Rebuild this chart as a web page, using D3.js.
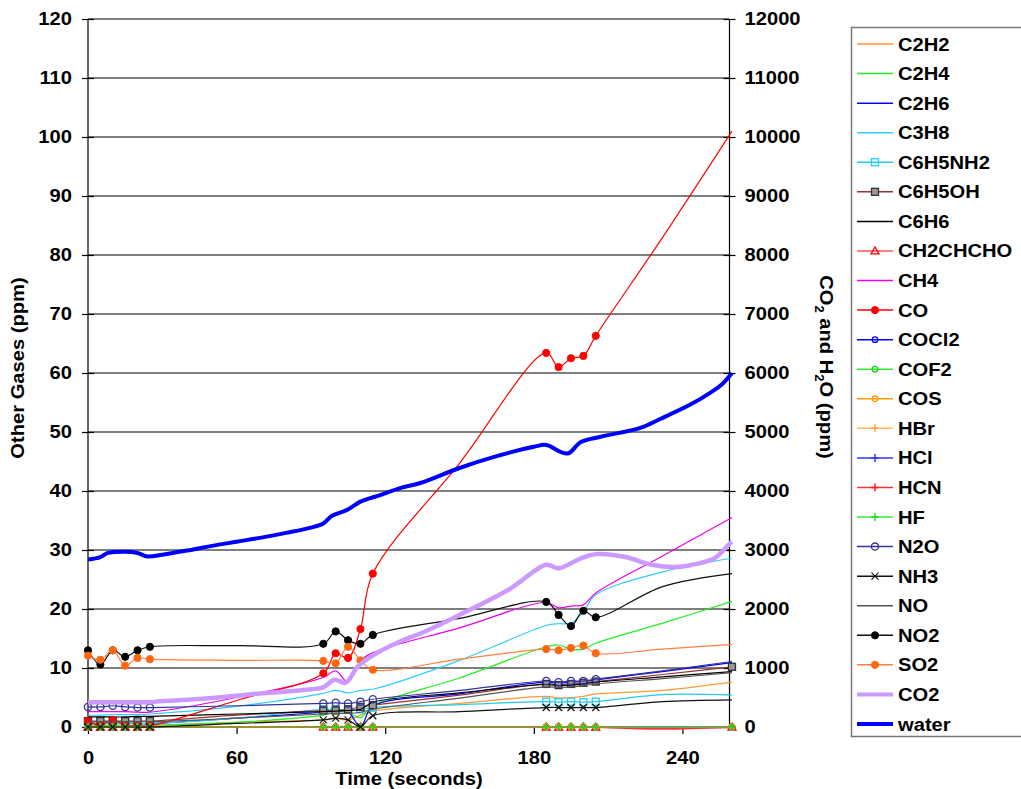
<!DOCTYPE html>
<html>
<head>
<meta charset="utf-8">
<script src="https://cdn.jsdelivr.net/npm/d3@7/dist/d3.min.js"></script>
<style>
  html, body { margin: 0; padding: 0; background: #fff; }
  svg { display: block; }
  text { font-family: "Liberation Sans", Arial, sans-serif; font-weight: bold; fill: #000; }
</style>
</head>
<body>
<svg id="chart" width="1021" height="789"></svg>
<script>
// Sample times (seconds) for the FTIR gas readings
const gasTimes = [0, 5, 10, 15, 20, 25, 60, 95, 100, 105, 110, 115, 150, 185, 190, 195, 200, 205, 232, 260];
// Times at which the sampled points carry a marker
const markTimes = [0, 5, 10, 15, 20, 25, 95, 100, 105, 110, 115, 185, 190, 195, 200, 205];
const endTime = 260;

// Other gases, ppm (left axis)
const C2H2     = [0.3, 0.3, 0.3, 0.3, 0.3, 0.3, 0.8, 1.2, 1.4, 1.2, 2.0, 2.7, 4.0, 5.2, 4.9, 5.0, 5.2, 5.6, 6.2, 7.6];
const C2H4     = [0.3, 0.3, 0.3, 0.3, 0.3, 0.3, 0.8, 2.0, 2.6, 2.4, 1.6, 3.6, 8.3, 13.6, 13.9, 13.2, 13.2, 14.2, 17.6, 21.3];
const C2H6     = [0.6, 0.6, 0.6, 0.6, 0.6, 0.6, 1.5, 2.5, 2.7, 2.6, 0.0, 3.5, 5.6, 7.6, 7.4, 7.6, 7.7, 8.0, 9.4, 10.9];
const C3H8     = [2.0, 2.0, 2.1, 2.1, 2.1, 2.2, 3.5, 5.7, 6.2, 5.8, 6.2, 6.4, 11.3, 17.2, 17.5, 17.6, 19.5, 22.4, 26.3, 28.6];
const C6H5NH2  = [0.6, 0.6, 0.6, 0.6, 0.6, 0.6, 1.5, 3.0, 3.0, 2.9, 3.0, 3.3, 3.8, 4.3, 4.2, 4.3, 4.2, 4.3, 5.5, 5.4];
const C6H5OH   = [1.0, 1.0, 1.0, 1.0, 1.0, 1.0, 2.0, 2.8, 2.8, 3.0, 3.4, 3.7, 5.4, 7.3, 7.1, 7.3, 7.5, 7.7, 8.9, 10.2];
const C6H6     = [1.7, 1.7, 1.7, 1.7, 1.8, 1.8, 2.2, 2.6, 2.7, 2.8, 3.0, 4.2, 5.8, 7.2, 7.0, 7.1, 7.3, 7.6, 8.5, 9.4];
const CH2CHCHO = [0, 0, 0, 0, 0, 0, 0, 0, 0, 0, 0, 0, 0, 0, 0, 0, 0, 0, 0, 0];
const CH4      = [2.6, 2.6, 2.6, 2.6, 2.5, 2.5, 5.0, 8.4, 9.5, 7.6, 11.2, 12.6, 16.8, 21.1, 20.2, 20.5, 20.7, 22.7, 29.0, 35.5];
const CO       = [1.0, 0.3, 1.2, 0.3, 0.2, 0.2, 4.5, 9.1, 12.5, 11.7, 16.6, 26.0, 44.7, 63.4, 61.0, 62.5, 62.9, 66.3, 83.0, 101.0];
const COCl2    = [0, 0, 0, 0, 0, 0, 0, 0, 0, 0, 0, 0, 0, 0, 0, 0, 0, 0, 0, 0];
const COF2     = [0, 0, 0, 0, 0, 0, 0, 0, 0, 0, 0, 0, 0, 0, 0, 0, 0, 0, 0, 0];
const COS      = [0, 0, 0, 0, 0, 0, 0, 0, 0, 0, 0, 0, 0, 0, 0, 0, 0, 0, 0, 0];
const HBr      = [0, 0, 0, 0, 0, 0, 0, 0, 0, 0, 0, 0, 0, 0, 0, 0, 0, 0, 0, 0];
const HCl      = [0, 0, 0, 0, 0, 0, 0, 0, 0, 0, 0, 0, 0, 0, 0, 0, 0, 0, 0, 0];
const HCN      = [0, 0, 0, 0, 0, 0, 0, 0, 0, 0, 0, 0, 0, 0, 0, 0, 0, 0, -0.3, 0];
const HF       = [0, 0, 0, 0, 0, 0, 0, 0, 0, 0, 0, 0, 0, 0, 0, 0, 0, 0, 0, 0];
const N2O      = [3.4, 3.4, 3.6, 3.4, 3.3, 3.3, 3.6, 4.0, 4.1, 4.0, 4.3, 4.7, 6.2, 7.8, 7.6, 7.8, 7.8, 8.1, 9.5, 11.1];
const NH3      = [0, 0, 0, 0, 0, 0, 0.6, 1.2, 1.5, 1.2, 0.05, 1.9, 2.6, 3.3, 3.3, 3.3, 3.3, 3.3, 4.3, 4.6];
const NO       = [0.9, 0.9, 0.9, 0.9, 0.9, 0.9, 1.5, 2.2, 2.3, 2.3, 2.5, 3.0, 4.9, 6.8, 6.7, 6.8, 7.0, 7.3, 8.2, 9.2];
const NO2      = [13.0, 10.6, 13.0, 11.9, 13.0, 13.6, 13.8, 14.1, 16.2, 14.7, 14.1, 15.6, 18.4, 21.2, 19.0, 17.1, 19.7, 18.6, 23.8, 26.0];
const SO2      = [12.1, 11.4, 13.0, 10.4, 11.7, 11.5, 11.3, 11.2, 10.8, 13.6, 11.3, 9.7, 11.5, 13.2, 13.0, 13.4, 13.8, 12.5, 13.2, 14.0];

// CO2 and water, ppm (right axis)
const co2Times   = [0, 10, 20, 25, 30, 40, 50, 60, 70, 80, 90, 95, 99.5, 104, 108.8, 114, 126, 134.5, 150, 170, 185, 190, 199, 205, 217, 227.5, 237, 244, 253, 258, 260];
const co2Values  = [420, 420, 420, 420, 440, 460, 490, 530, 570, 600, 640, 670, 800, 750, 1020, 1190, 1450, 1590, 1900, 2330, 2750, 2690, 2860, 2930, 2880, 2750, 2710, 2750, 2860, 3060, 3140];
const waterTimes  = [0, 5, 8, 15, 20, 24, 30, 40, 50, 60, 70, 80, 90, 95, 98.5, 104.6, 110, 114, 118, 126, 134.5, 150, 165, 180, 185, 191, 194, 199, 207, 223, 231, 243, 251, 256, 260];
const waterValues = [2840, 2880, 2950, 2970, 2950, 2890, 2920, 2990, 3070, 3140, 3210, 3290, 3380, 3450, 3580, 3680, 3820, 3880, 3930, 4050, 4140, 4390, 4590, 4750, 4780, 4660, 4640, 4830, 4920, 5070, 5220, 5460, 5660, 5810, 6000];

// Axis ticks
const xTicks = [0, 60, 120, 180, 240];
const leftTicks = d3.range(0, 121, 10);
const rightTicks = d3.range(0, 12001, 1000);

// Series styling (drawn in legend order)
const gasSeries = [
  { name: "C2H2",     values: C2H2,     color: "#ff9933", marker: null },
  { name: "C2H4",     values: C2H4,     color: "#22ee22", marker: null },
  { name: "C2H6",     values: C2H6,     color: "#0000ff", marker: null },
  { name: "C3H8",     values: C3H8,     color: "#33ccff", marker: null },
  { name: "C6H5NH2",  values: C6H5NH2,  color: "#22ccee", marker: "squareOpen", mColor: "#22ccff" },
  { name: "C6H5OH",   values: C6H5OH,   color: "#993333", marker: "squareGray", mColor: "#333333", end: true },
  { name: "C6H6",     values: C6H6,     color: "#000000", marker: null },
  { name: "CH2CHCHO", values: CH2CHCHO, color: "#ff5555", marker: "triangle", mColor: "#ff0000", end: true },
  { name: "CH4",      values: CH4,      color: "#ee00ee", marker: null },
  { name: "CO",       values: CO,       color: "#ff0000", marker: "circleFill", mColor: "#ff0000" },
  { name: "COCl2",    values: COCl2,    color: "#0000ff", marker: "circleOpenSmall", mColor: "#0000ff", end: true },
  { name: "COF2",     values: COF2,     color: "#33ee33", marker: "circleOpenSmall", mColor: "#22cc22", end: true },
  { name: "COS",      values: COS,      color: "#ff9900", marker: "circleOpenSmall", mColor: "#ff9900", end: true },
  { name: "HBr",      values: HBr,      color: "#ffbb55", marker: "plus", mColor: "#ffaa33", end: true },
  { name: "HCl",      values: HCl,      color: "#3333ff", marker: "plus", mColor: "#3333ff", end: true },
  { name: "HCN",      values: HCN,      color: "#ff3333", marker: "plus", mColor: "#ff2222", end: true, wide: true },
  { name: "HF",       values: HF,       color: "#33ee33", marker: "plus", mColor: "#22dd22", end: true },
  { name: "N2O",      values: N2O,      color: "#333399", marker: "circleOpen", mColor: "#333399" },
  { name: "NH3",      values: NH3,      color: "#111111", marker: "cross", mColor: "#111111" },
  { name: "NO",       values: NO,       color: "#555555", marker: null },
  { name: "NO2",      values: NO2,      color: "#111111", marker: "circleFill", mColor: "#000000" },
  { name: "SO2",      values: SO2,      color: "#ff8040", marker: "circleFill", mColor: "#ff6611" }
];
const rightSeries = [
  { name: "CO2",   times: co2Times,   values: co2Values,   color: "#cc99ff", width: 4.5 },
  { name: "water", times: waterTimes, values: waterValues, color: "#0000ff", width: 4 }
];

const FONT = 18.5;      // label font size
const WIDEN = 1.09;     // horizontal widening of label glyphs

const svg = d3.select("#chart");
const plot = { left: 88, right: 729.5, top: 19, bottom: 727 };

const x = d3.scaleLinear().domain([0, 259]).range([plot.left, plot.right]);
const yL = d3.scaleLinear().domain([0, 120]).range([plot.bottom, plot.top]);
const yR = d3.scaleLinear().domain([0, 12000]).range([plot.bottom, plot.top]);

// Horizontal gridlines
svg.append("g").selectAll("line").data(leftTicks.filter(d => d > 0)).join("line")
  .attr("x1", plot.left).attr("x2", plot.right)
  .attr("y1", d => yL(d)).attr("y2", d => yL(d))
  .attr("stroke", "#000").attr("stroke-width", 1.2);

function styleTickText(sel, dx, dy) {
  sel.attr("font-size", FONT).attr("font-family", "Liberation Sans, Arial").attr("font-weight", "bold")
    .attr("x", 0).attr("transform", `translate(${dx},${dy}) scale(${WIDEN},1)`);
}

// Left axis
const leftAxis = d3.axisLeft(yL).tickValues(leftTicks).tickSize(6).tickPadding(10);
const gL = svg.append("g").attr("transform", `translate(${plot.left},0)`).call(leftAxis);
gL.select(".domain").remove();
gL.selectAll(".tick line").attr("x2", -6).attr("x1", 6).attr("stroke", "#000").attr("stroke-width", 1.2);
styleTickText(gL.selectAll(".tick text"), -16, 0);

// Right axis
const rightAxis = d3.axisRight(yR).tickValues(rightTicks).tickSize(6).tickPadding(10).tickFormat(d3.format("d"));
const gR = svg.append("g").attr("transform", `translate(${plot.right},0)`).call(rightAxis);
gR.select(".domain").remove();
gR.selectAll(".tick line").attr("x1", -6).attr("x2", 6).attr("stroke", "#000").attr("stroke-width", 1.2);
styleTickText(gR.selectAll(".tick text"), 15, 0);

// Bottom axis
const bottomAxis = d3.axisBottom(x).tickValues(xTicks).tickSize(7).tickPadding(17);
const gB = svg.append("g").attr("transform", `translate(0,${plot.bottom})`).call(bottomAxis);
gB.select(".domain").remove();
gB.selectAll(".tick line").attr("stroke", "#000").attr("stroke-width", 1.2);
styleTickText(gB.selectAll(".tick text"), 0, 0);

// Axis lines
svg.append("line").attr("x1", plot.left).attr("x2", plot.left).attr("y1", plot.top).attr("y2", plot.bottom)
  .attr("stroke", "#000").attr("stroke-width", 1.2);
svg.append("line").attr("x1", plot.right).attr("x2", plot.right).attr("y1", plot.top).attr("y2", plot.bottom)
  .attr("stroke", "#000").attr("stroke-width", 1.2);
svg.append("line").attr("x1", plot.left).attr("x2", plot.right).attr("y1", plot.bottom).attr("y2", plot.bottom)
  .attr("stroke", "#000").attr("stroke-width", 1.2);

// Marker drawing
function drawMarker(g, type, cx, cy, color) {
  switch (type) {
    case "circleFill":
      g.append("circle").attr("cx", cx).attr("cy", cy).attr("r", 3.6).attr("fill", color).attr("stroke", color);
      break;
    case "circleOpen":
      g.append("circle").attr("cx", cx).attr("cy", cy).attr("r", 3.6).attr("fill", "none").attr("stroke", color).attr("stroke-width", 1.3);
      break;
    case "circleOpenSmall":
      g.append("circle").attr("cx", cx).attr("cy", cy).attr("r", 2.8).attr("fill", "none").attr("stroke", color).attr("stroke-width", 1.3);
      break;
    case "squareOpen":
      g.append("rect").attr("x", cx - 3.5).attr("y", cy - 3.5).attr("width", 7).attr("height", 7).attr("fill", "none").attr("stroke", color).attr("stroke-width", 1.3);
      break;
    case "squareGray":
      g.append("rect").attr("x", cx - 3.5).attr("y", cy - 3.5).attr("width", 7).attr("height", 7).attr("fill", "#999").attr("stroke", color).attr("stroke-width", 1.3);
      break;
    case "triangle":
      g.append("path").attr("d", `M${cx},${cy - 4}L${cx + 4},${cy + 3}L${cx - 4},${cy + 3}Z`).attr("fill", "none").attr("stroke", color).attr("stroke-width", 1.3);
      break;
    case "plus":
      g.append("path").attr("d", `M${cx - 4},${cy}H${cx + 4}M${cx},${cy - 4}V${cy + 4}`).attr("stroke", color).attr("stroke-width", 1.5).attr("fill", "none");
      break;
    case "cross":
      g.append("path").attr("d", `M${cx - 3.5},${cy - 3.5}L${cx + 3.5},${cy + 3.5}M${cx + 3.5},${cy - 3.5}L${cx - 3.5},${cy + 3.5}`).attr("stroke", color).attr("stroke-width", 1.2).attr("fill", "none");
      break;
  }
}

const lineGas = d3.line().x(d => x(d[0])).y(d => yL(d[1])).curve(d3.curveCatmullRom.alpha(0.5));
const lineRight = d3.line().x(d => x(d[0])).y(d => yR(d[1])).curve(d3.curveCatmullRom.alpha(0.5));

const gLines = svg.append("g");
gasSeries.forEach(s => {
  const pts = gasTimes.map((t, i) => [t, s.values[i]]);
  gLines.append("path").datum(pts).attr("d", lineGas)
    .attr("fill", "none").attr("stroke", s.color).attr("stroke-width", s.wide ? 2 : 1.2);
  if (s.marker) {
    const mk = gLines.append("g");
    pts.forEach(p => {
      if (markTimes.includes(p[0]) || (s.end && p[0] === endTime)) {
        drawMarker(mk, s.marker, x(p[0]), yL(p[1]), s.mColor);
      }
    });
  }
});

rightSeries.forEach(s => {
  const pts = s.times.map((t, i) => [t, s.values[i]]);
  gLines.append("path").datum(pts).attr("d", lineRight)
    .attr("fill", "none").attr("stroke", s.color).attr("stroke-width", s.width)
    .attr("stroke-linejoin", "round");
});

// Axis titles
svg.append("text").attr("transform", `translate(24,${(plot.top + plot.bottom) / 2 - 5}) rotate(-90) scale(${WIDEN},1)`)
  .attr("text-anchor", "middle").attr("font-size", FONT).text("Other Gases  (ppm)");

const rt = svg.append("text").attr("transform", `translate(820,${(plot.top + plot.bottom) / 2 - 6}) rotate(90) scale(${WIDEN},1)`)
  .attr("text-anchor", "middle").attr("font-size", FONT);
rt.append("tspan").text("CO");
rt.append("tspan").attr("font-size", 12).attr("dy", 5).text("2");
rt.append("tspan").attr("dy", -5).text(" and H");
rt.append("tspan").attr("font-size", 12).attr("dy", 5).text("2");
rt.append("tspan").attr("dy", -5).text("O (ppm)");

svg.append("text").attr("transform", `translate(409,785) scale(${WIDEN},1)`).attr("text-anchor", "middle")
  .attr("font-size", FONT).text("Time (seconds)");

// Legend
const legendItems = gasSeries.map(s => ({ name: s.name, color: s.color, marker: s.marker, mColor: s.mColor, width: 1.5 }))
  .concat(rightSeries.map(s => ({ name: s.name, color: s.color, marker: null, width: 4 })));
const legY = d3.scalePoint().domain(legendItems.map(d => d.name)).range([44, 724]);
const gLeg = svg.append("g");
gLeg.append("rect").attr("x", 851.5).attr("y", 27.5).attr("width", 200).attr("height", 709)
  .attr("fill", "#fff").attr("stroke", "#777").attr("stroke-width", 1.5);
legendItems.forEach(d => {
  const yy = legY(d.name);
  gLeg.append("line").attr("x1", 857).attr("x2", 893).attr("y1", yy).attr("y2", yy)
    .attr("stroke", d.color).attr("stroke-width", d.width);
  if (d.marker) drawMarker(gLeg, d.marker, 875, yy, d.mColor);
  gLeg.append("text").attr("transform", `translate(898,${yy + 6.5}) scale(${WIDEN},1)`)
    .attr("font-size", FONT).text(d.name);
});
</script>
</body>
</html>
